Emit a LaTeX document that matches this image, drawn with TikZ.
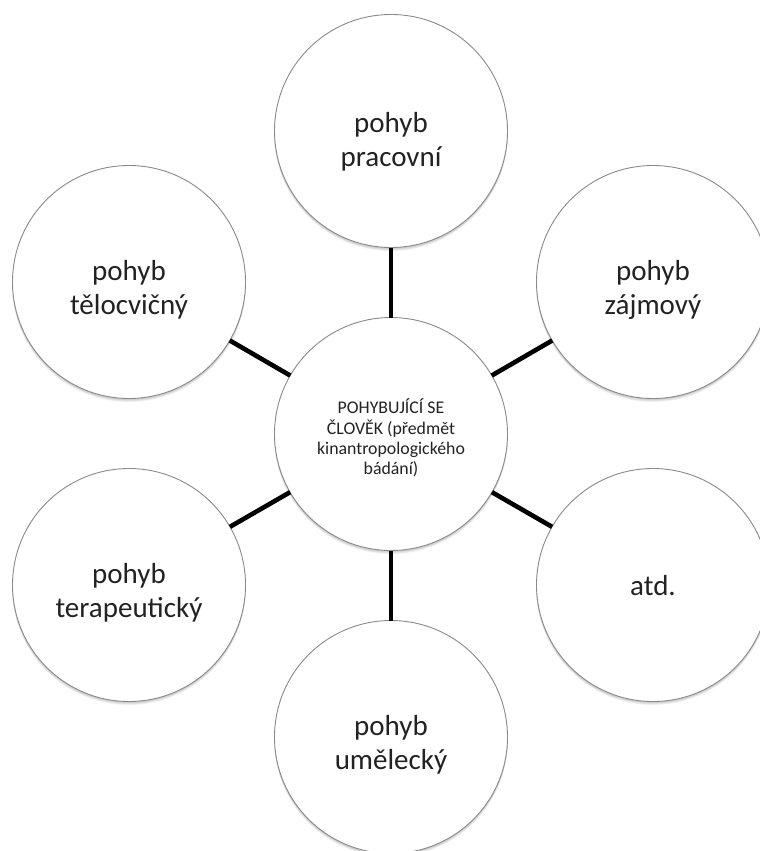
\documentclass[tikz,border=0pt]{standalone}
\usepackage{fontspec}
\setmainfont{Carlito}
\usetikzlibrary{backgrounds,calc}
\definecolor{rim}{HTML}{8A8A8A}
\definecolor{ink}{HTML}{222222}
\newcommand{\lowertext}[2]{\raisebox{-#1}[\height][\depth]{#2}}
\tikzset{
  bubble/.style={circle, draw=rim, line width=0.9pt, fill=white,
    minimum size=233pt, inner sep=0pt, outer sep=0pt, align=center,
    text=ink, font=\fontsize{29}{33.5}\selectfont},
  hub/.style={bubble, font=\fontsize{17.8}{20.2}\selectfont},
  spoke/.style={line width=4.6pt, draw=black},
  softshadow/.style={fill=black, opacity=0.055}
}
\begin{document}
\begin{tikzpicture}[x=1pt,y=-1pt]
\useasboundingbox (0,0) rectangle (760,851);
\node[hub]    (c)  at (391,434) {\lowertext{4pt}{\parbox{170pt}{\centering POHYBUJÍCÍ SE\\ČLOVĚK (předmět\\kinantropologického\\bádání)}}};
\node[bubble] (t)  at (391,131) {\lowertext{11pt}{\parbox{200pt}{\centering pohyb\\pracovní}}};
\node[bubble] (ur) at (653,282) {\lowertext{8pt}{\parbox{200pt}{\centering pohyb\\zájmový}}};
\node[bubble] (lr) at (653,585) {\lowertext{1pt}{atd.}};
\node[bubble] (b)  at (391,737) {\lowertext{8pt}{\parbox{200pt}{\centering pohyb\\umělecký}}};
\node[bubble] (ll) at (129,585) {\lowertext{8pt}{\parbox{200pt}{\centering pohyb\\terapeutický}}};
\node[bubble] (ul) at (129,282) {\lowertext{8pt}{\parbox{200pt}{\centering pohyb\\tělocvičný}}};
\begin{pgfonlayer}{background}
\foreach \s in {c,t,ur,lr,b,ll,ul}{
  \foreach \k in {0.8,1.6,2.4,3.2}{
    \fill[softshadow] ($(\s.center)+(0,\k)$) circle (116.8pt);
  }
}
\end{pgfonlayer}
\foreach \s in {t,ur,lr,b,ll,ul}{\draw[spoke] (c) -- (\s);}
\end{tikzpicture}
\end{document}
